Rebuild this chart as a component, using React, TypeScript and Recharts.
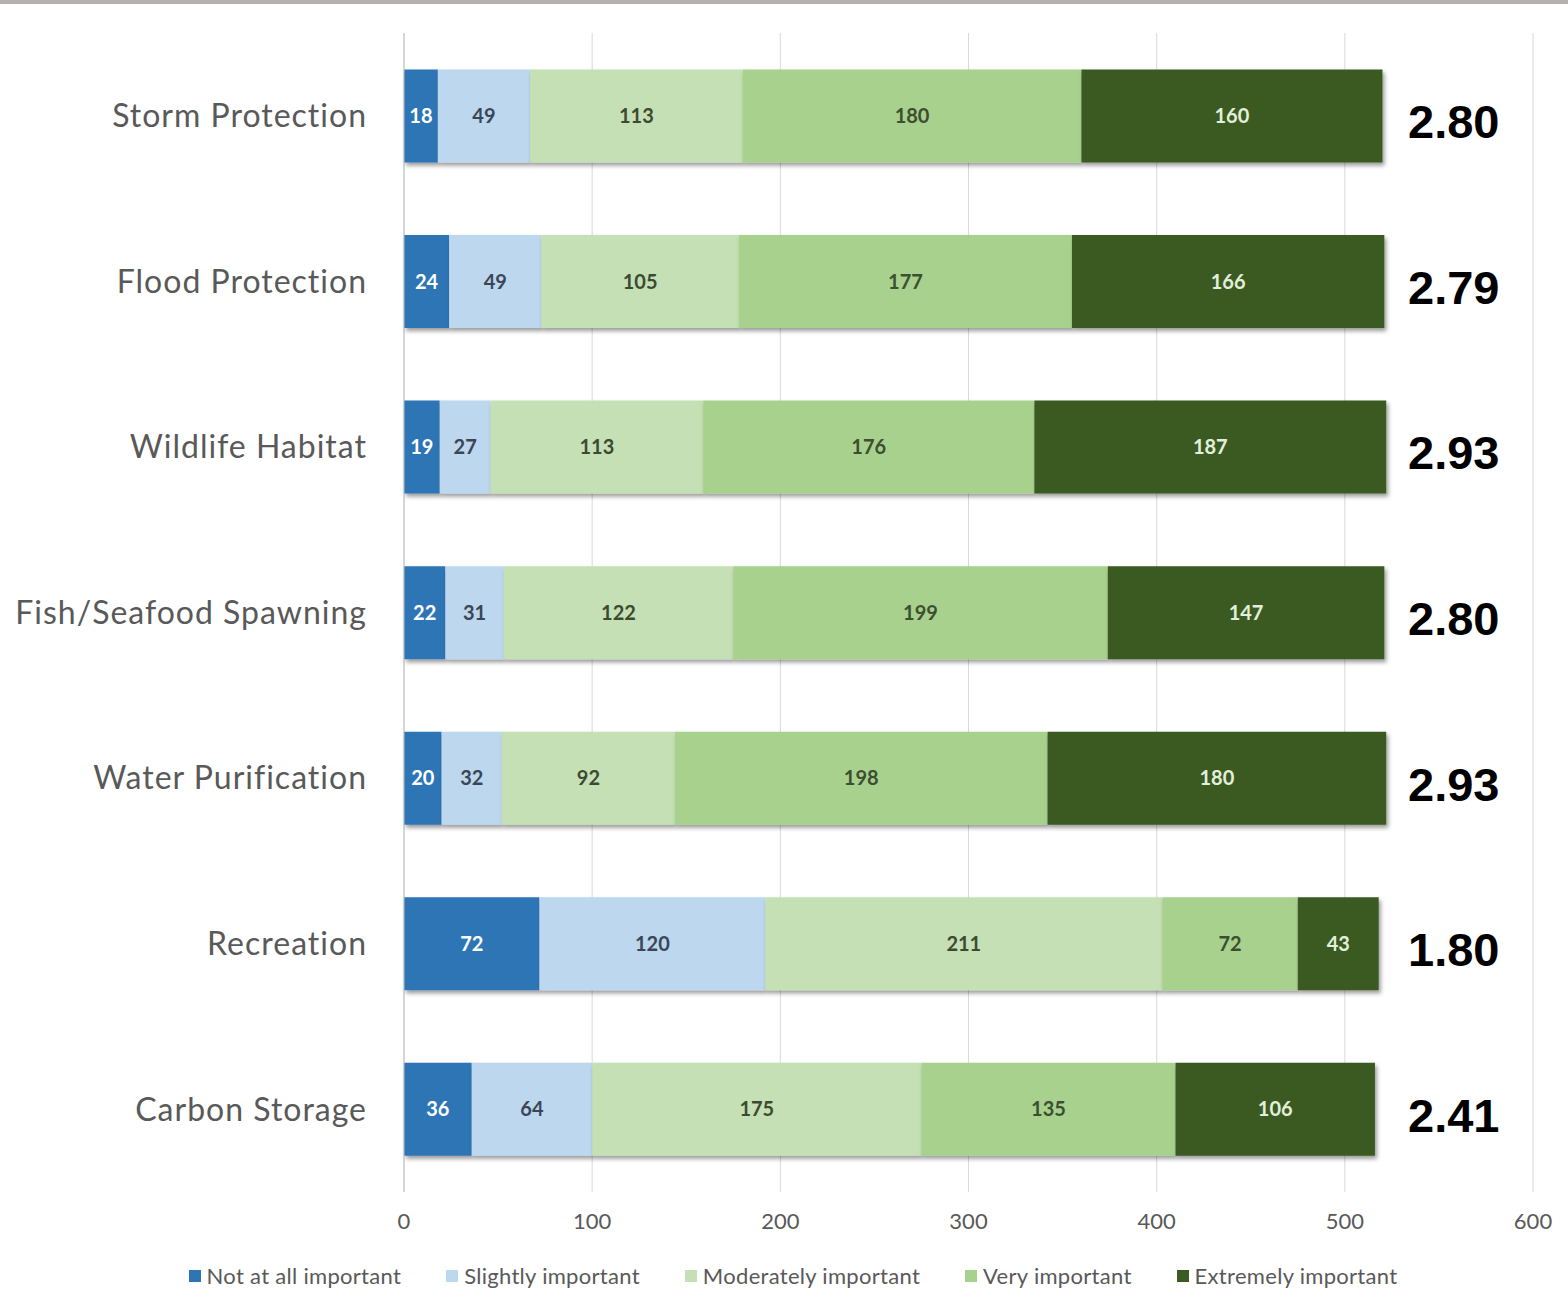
import { BarChart, Bar, XAxis, YAxis, CartesianGrid, Legend, LabelList } from "recharts";

const categories = [
  "Storm Protection",
  "Flood Protection",
  "Wildlife Habitat",
  "Fish/Seafood Spawning",
  "Water Purification",
  "Recreation",
  "Carbon Storage",
];
const notAtAll = [18, 24, 19, 22, 20, 72, 36];
const slightly = [49, 49, 27, 31, 32, 120, 64];
const moderately = [113, 105, 113, 122, 92, 211, 175];
const very = [180, 177, 176, 199, 198, 72, 135];
const extremely = [160, 166, 187, 147, 180, 43, 106];
const scores = ["2.80", "2.79", "2.93", "2.80", "2.93", "1.80", "2.41"];
const xTicks = [0, 100, 200, 300, 400, 500, 600];

const series = [
  { key: "notAtAll", name: "Not at all important", color: "#2e75b6", label: "#ffffff" },
  { key: "slightly", name: "Slightly important", color: "#bdd7ee", label: "#3a4656" },
  { key: "moderately", name: "Moderately important", color: "#c5e0b4", label: "#3d4a33" },
  { key: "very", name: "Very important", color: "#a9d18e", label: "#3c4f30" },
  { key: "extremely", name: "Extremely important", color: "#3b5a24", label: "#e2efda" },
];

const data = categories.map((name, i) => ({
  name,
  notAtAll: notAtAll[i],
  slightly: slightly[i],
  moderately: moderately[i],
  very: very[i],
  extremely: extremely[i],
}));

const FONT = "Lato, 'Open Sans', sans-serif";

// score column on the right, drawn as the ticks of a second category axis
const ScoreTick = (props: any) => {
  const { x, y, payload } = props;
  const i = categories.indexOf(payload.value);
  return (
    <text
      x={x - 125}
      y={y + 6}
      textAnchor="start"
      dominantBaseline="central"
      fontFamily="'Liberation Sans', Arial, sans-serif"
      fontWeight="bold"
      fontSize={47}
      fill="#000"
    >
      {scores[i]}
    </text>
  );
};

const LegendContent = () => (
  <div
    style={{
      height: 55,
      display: "flex",
      justifyContent: "center",
      alignItems: "flex-start",
      paddingLeft: 18,
      paddingTop: 8,
      boxSizing: "border-box",
      gap: 45,
      fontFamily: FONT,
      fontSize: 22,
      letterSpacing: 0.3,
      color: "#595959",
    }}
  >
    {series.map((s) => (
      <div key={s.key} style={{ display: "flex", alignItems: "center", gap: 6 }}>
        <span style={{ width: 12, height: 12, background: s.color, display: "inline-block" }} />
        <span>{s.name}</span>
      </div>
    ))}
  </div>
);

export default function App() {
  return (
    <div
      style={{
        position: "absolute",
        top: 0,
        left: 0,
        width: 1568,
        height: 1309,
        background: "#fff",
        overflow: "hidden",
      }}
    >
      <div style={{ position: "absolute", top: 0, left: 0, width: 1568, height: 4, background: "#b3b0ae" }} />
      <svg width={0} height={0} style={{ position: "absolute" }}>
        <defs>
          <filter id="barShadow" x="-5%" y="-20%" width="120%" height="160%">
            <feDropShadow dx={2} dy={3} stdDeviation={2} floodColor="#000" floodOpacity={0.4} />
          </filter>
        </defs>
      </svg>
      <BarChart
        width={1568}
        height={1309}
        data={data}
        layout="vertical"
        margin={{ top: 33, right: 0, bottom: 0, left: 0 }}
        barCategoryGap="22%"
      >
        <CartesianGrid horizontal={false} stroke="#d9d9d9" />
        <XAxis
          type="number"
          domain={[0, 600]}
          ticks={xTicks}
          axisLine={false}
          tickLine={false}
          tickSize={0}
          tickMargin={21}
          height={62}
          tick={{ fill: "#595959", fontSize: 22, fontFamily: FONT }}
        />
        <YAxis
          type="category"
          dataKey="name"
          width={404}
          axisLine={{ stroke: "#bfbfbf" }}
          tickLine={false}
          tickSize={0}
          tickMargin={37}
          tick={{ fill: "#595959", fontSize: 32, fontFamily: FONT, letterSpacing: 1 }}
        />
        <YAxis
          yAxisId="score"
          orientation="right"
          type="category"
          dataKey="name"
          width={35}
          axisLine={false}
          tickLine={false}
          tickSize={0}
          tickMargin={0}
          tick={<ScoreTick />}
        />
        <Legend verticalAlign="bottom" content={<LegendContent />} wrapperStyle={{ left: 0, width: 1568 }} />
        {series.map((s) => (
          <Bar
            key={s.key}
            dataKey={s.key}
            name={s.name}
            stackId="a"
            fill={s.color}
            isAnimationActive={false}
            style={{ filter: "url(#barShadow)" }}
          >
            <LabelList
              dataKey={s.key}
              position="center"
              fill={s.label}
              fontSize={20}
              fontWeight="bold"
              fontFamily={FONT}
            />
          </Bar>
        ))}
      </BarChart>
    </div>
  );
}
